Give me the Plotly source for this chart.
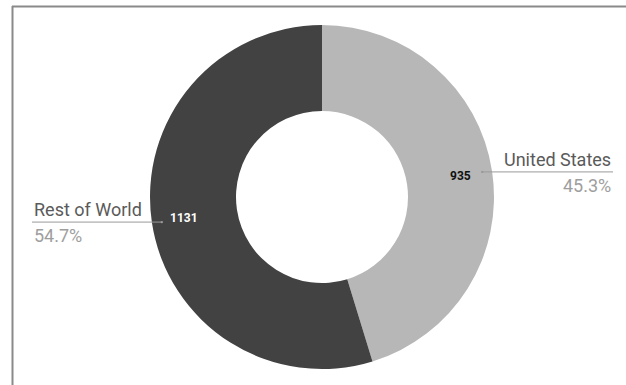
import math
import plotly.graph_objects as go

# Visitor split by region
regions = ["United States", "Rest of World"]
visits = [935, 1131]
slice_colors = ["#b7b7b7", "#424242"]
value_colors = ["#111111", "#ffffff"]

W, H = 626, 385
CX, CY, R = 322, 197, 172          # pie centre and outer radius, in pixels
HOLE = 0.5


def px(x):
    return x / W


def py(y):
    return 1 - y / H


fig = go.Figure(go.Pie(
    labels=regions,
    values=visits,
    hole=HOLE,
    sort=False,
    direction="clockwise",
    rotation=0,
    textinfo="none",
    marker=dict(colors=slice_colors, line=dict(width=0)),
    showlegend=False,
    hoverinfo="label+value+percent",
    domain=dict(x=[px(CX - R), px(CX + R)], y=[py(CY + R), py(CY - R)]),
))

total = sum(visits)
annotations = []
shapes = []
cum = 0.0
for name, v, tc in zip(regions, visits, value_colors):
    frac = v / total
    mid = (cum + frac / 2) * 2 * math.pi
    cum += frac
    dx, dy = math.sin(mid), -math.cos(mid)
    # value label inside the ring, near the outer edge
    annotations.append(dict(
        x=px(CX + 140 * dx), y=py(CY + 140 * dy), xref="paper", yref="paper",
        xanchor="center", yanchor="middle",
        text=f"<b>{v}</b>", showarrow=False,
        font=dict(family="Roboto, Arial", size=12, color=tc),
    ))
    # outside label with leader line
    ly = CY + 169 * dy
    right = dx > 0
    if right:
        x0, x1 = CX + 162 * dx, 613
        tx, anchor = x1, "right"
    else:
        x0, x1 = 32, CX + 162 * dx
        tx, anchor = x0, "left"
    shapes.append(dict(type="line", xref="paper", yref="paper",
                       x0=px(x0), x1=px(x1), y0=py(ly), y1=py(ly),
                       line=dict(color="#9a9a9a", width=1)))
    dot_x = x0 if right else x1
    shapes.append(dict(type="circle", xref="paper", yref="paper",
                       x0=px(dot_x - 1.2), x1=px(dot_x + 1.2),
                       y0=py(ly - 1.2), y1=py(ly + 1.2),
                       fillcolor="#9a9a9a", line=dict(width=0)))
    annotations.append(dict(
        x=px(tx), y=py(ly), xref="paper", yref="paper",
        xanchor=anchor, yanchor="bottom", text=name, showarrow=False,
        font=dict(family="Roboto, Arial", size=18, color="#5a5a5a"),
    ))
    annotations.append(dict(
        x=px(tx), y=py(ly + 1), xref="paper", yref="paper",
        xanchor=anchor, yanchor="top", text=f"{frac * 100:.1f}%", showarrow=False,
        font=dict(family="Roboto, Arial", size=18, color="#9e9e9e"),
    ))

# frame edges along the top and left
shapes.append(dict(type="line", xref="paper", yref="paper",
                   x0=px(12), x1=1, y0=py(6.5), y1=py(6.5),
                   line=dict(color="#8a8a8a", width=2)))
shapes.append(dict(type="line", xref="paper", yref="paper",
                   x0=px(12.5), x1=px(12.5), y0=py(6), y1=0,
                   line=dict(color="#8a8a8a", width=2)))

fig.update_layout(
    width=W, height=H,
    margin=dict(l=0, r=0, t=0, b=0),
    paper_bgcolor="white", plot_bgcolor="white",
    annotations=annotations, shapes=shapes,
)

fig.write_html("out.html")
